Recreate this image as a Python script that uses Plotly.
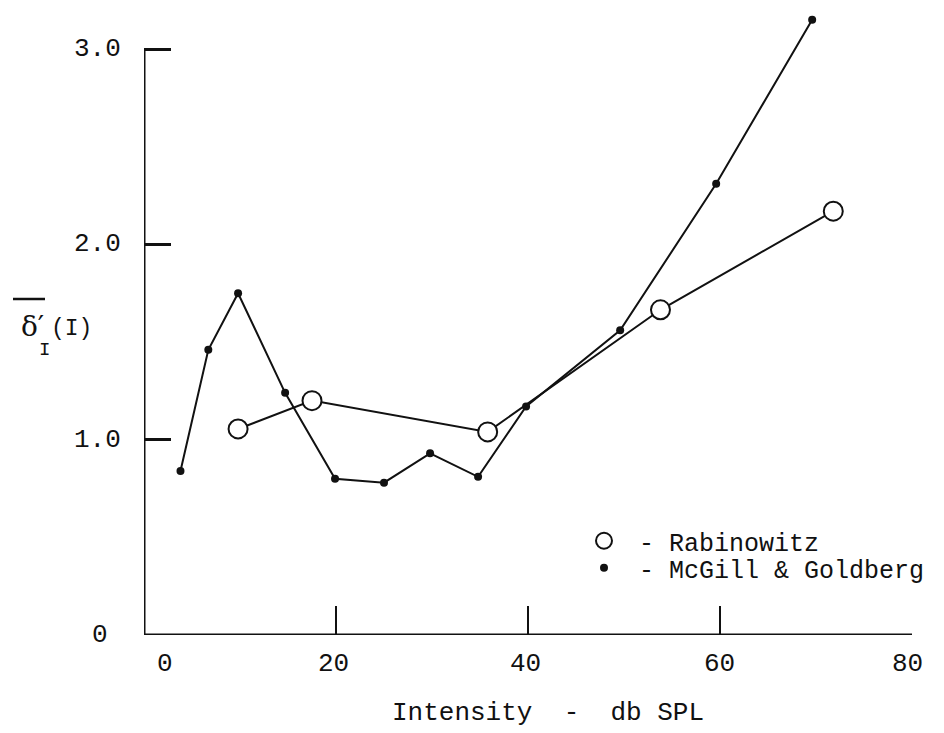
import plotly.graph_objects as go

# McGill & Goldberg: intensity (dB SPL) vs. mean delta'
mcgill_x = [3.8, 6.7, 9.8, 14.7, 19.9, 25.0, 29.8, 34.8, 39.8, 49.6, 59.6, 69.6]
mcgill_y = [0.84, 1.46, 1.75, 1.24, 0.80, 0.78, 0.93, 0.81, 1.17, 1.56, 2.31, 3.15]

# Rabinowitz
rab_x = [9.8, 17.5, 35.8, 53.8, 71.8]
rab_y = [1.055, 1.20, 1.04, 1.665, 2.17]

x_ticks = [0, 20, 40, 60, 80]
x_tick_text = ["0", "20", "40", "60", "80"]
y_ticks = [0, 1, 2, 3]
y_tick_text = ["0", "1.0", "2.0", "3.0"]

FONT = "Liberation Mono, Courier New, monospace"
INK = "#111111"

W, H = 944, 733
ML, MR, MT, MB = 144, 32, 10, 98
PW, PH = W - ML - MR, H - MT - MB


def px(xp):
    """page x pixel -> paper x"""
    return (xp - ML) / PW


def py(yp):
    """page y pixel -> paper y"""
    return (H - MB - yp) / PH


fig = go.Figure()

fig.add_trace(go.Scatter(
    x=mcgill_x, y=mcgill_y, mode="lines+markers",
    line=dict(color=INK, width=2),
    marker=dict(symbol="circle", size=8, color=INK),
    showlegend=False, cliponaxis=False,
))
fig.add_trace(go.Scatter(
    x=rab_x, y=rab_y, mode="lines+markers",
    line=dict(color=INK, width=2),
    marker=dict(symbol="circle", size=19, color="white",
                line=dict(color=INK, width=2)),
    showlegend=False, cliponaxis=False,
))

# legend entries (one per legend box so each row can be placed freely)
fig.add_trace(go.Scatter(
    x=[None], y=[None], mode="markers", name="\u00a0- Rabinowitz",
    marker=dict(symbol="circle", size=18, color="white",
                line=dict(color=INK, width=2)),
    legend="legend",
))
fig.add_trace(go.Scatter(
    x=[None], y=[None], mode="markers", name="\u00a0- McGill & Goldberg",
    marker=dict(symbol="circle", size=8, color=INK),
    legend="legend2",
))

# axis frame: x axis to 80, y axis only up to 3.0
fig.add_shape(type="line", xref="x", yref="y", x0=0, y0=0, x1=80, y1=0,
              line=dict(color=INK, width=3))
fig.add_shape(type="line", xref="x", yref="y", x0=0, y0=0, x1=0, y1=3.0,
              line=dict(color=INK, width=3))

# overline over the delta of the y label
fig.add_shape(type="line", xref="paper", yref="paper",
              x0=px(13), x1=px(45), y0=py(299), y1=py(299),
              line=dict(color=INK, width=2.5))

annotations = []
x_shifts = [21, -3, -3, -1, -5]
for v, t, s in zip(x_ticks, x_tick_text, x_shifts):
    annotations.append(dict(x=v, y=0, xref="x", yref="y", text=t,
                            showarrow=False, xanchor="center", yanchor="middle",
                            xshift=s, yshift=-29,
                            font=dict(family=FONT, size=26, color=INK)))
for v, t in zip(y_ticks, y_tick_text):
    if t == "0":
        annotations.append(dict(x=0, y=v, xref="x", yref="y", text=t,
                                showarrow=False, xanchor="center", yanchor="middle",
                                xshift=-44, font=dict(family=FONT, size=26, color=INK)))
    else:
        annotations.append(dict(x=0, y=v, xref="x", yref="y", text=t,
                                showarrow=False, xanchor="right", yanchor="middle",
                                xshift=-21, font=dict(family=FONT, size=26, color=INK)))

# x axis title
annotations.append(dict(x=px(548), y=py(713), xref="paper", yref="paper",
                        text="Intensity  -  db SPL",
                        showarrow=False, xanchor="center", yanchor="middle",
                        font=dict(family=FONT, size=26, color=INK)))

# y axis label: delta-bar prime, subscript I (set under the prime), (I)
annotations.append(dict(x=px(19), y=py(326), xref="paper", yref="paper",
                        text="δ′", showarrow=False, xanchor="left", yanchor="middle",
                        font=dict(family="DejaVu Serif, serif", size=28, color=INK)))
annotations.append(dict(x=px(44), y=py(350), xref="paper", yref="paper",
                        text="I", showarrow=False, xanchor="center", yanchor="middle",
                        font=dict(family=FONT, size=19, color=INK)))
annotations.append(dict(x=px(49), y=py(329), xref="paper", yref="paper",
                        text="(I)", showarrow=False, xanchor="left", yanchor="middle",
                        font=dict(family=FONT, size=23, color=INK)))

fig.update_layout(
    width=W, height=H,
    margin=dict(l=ML, r=MR, t=MT, b=MB, pad=0, autoexpand=False),
    paper_bgcolor="white", plot_bgcolor="white",
    xaxis=dict(range=[0, 80], showgrid=False, zeroline=False, showline=False,
               ticks="inside", tickvals=[20, 40, 60, 80], ticklen=29, tickwidth=2,
               tickcolor=INK, showticklabels=False),
    yaxis=dict(range=[0, 3.2], showgrid=False, zeroline=False, showline=False,
               ticks="inside", tickvals=[1, 2, 3], ticklen=27, tickwidth=2.5,
               tickcolor=INK, showticklabels=False),
    annotations=annotations,
    legend=dict(x=px(584), y=py(541), xanchor="left", yanchor="middle",
                bgcolor="rgba(0,0,0,0)", borderwidth=0,
                font=dict(family=FONT, size=25, color=INK)),
    legend2=dict(x=px(584), y=py(568), xanchor="left", yanchor="middle",
                 bgcolor="rgba(0,0,0,0)", borderwidth=0,
                 font=dict(family=FONT, size=25, color=INK)),
)

fig.write_html("out.html")
